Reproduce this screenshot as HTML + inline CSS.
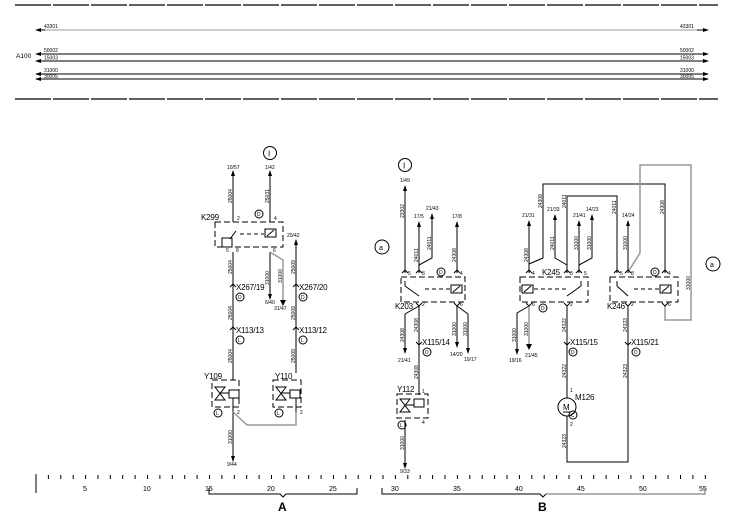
<!DOCTYPE html>
<html><head><meta charset="utf-8"><style>
html,body{margin:0;padding:0;background:#fff;}
svg{display:block;font-family:"Liberation Sans",sans-serif;}
.t{font-size:8px;fill:#000;letter-spacing:-0.2px;}
.s{font-size:5px;fill:#000;}
.w{stroke:#000;stroke-width:1;fill:none;}
.g{stroke:#999;stroke-width:1.5;fill:none;}
.d{stroke:#000;stroke-width:1;fill:none;stroke-dasharray:6,3;}
</style></head><body>
<svg width="744" height="518" viewBox="0 0 744 518" xmlns="http://www.w3.org/2000/svg">
<defs>
<marker id="a" markerWidth="6" markerHeight="6" refX="5" refY="3" orient="auto" markerUnits="userSpaceOnUse"><path d="M0,1 L6,3 L0,5 Z" fill="#000"/></marker>
</defs>

<line x1="15" y1="5" x2="718" y2="5" stroke="#000" stroke-width="1.3" stroke-dasharray="36,2"/>
<line x1="15" y1="99" x2="718" y2="99" stroke="#000" stroke-width="1.3" stroke-dasharray="36,2"/>
<line x1="42" y1="30" x2="700" y2="30" stroke="#999" stroke-width="1"/>
<g class="w" marker-end="url(#a)">
<line x1="45" y1="30" x2="36" y2="30"/><line x1="697" y1="30" x2="708" y2="30"/>
<line x1="45" y1="54" x2="36" y2="54"/><line x1="697" y1="54" x2="708" y2="54"/>
<line x1="45" y1="61" x2="36" y2="61"/><line x1="697" y1="61" x2="708" y2="61"/>
<line x1="45" y1="74" x2="36" y2="74"/><line x1="697" y1="74" x2="708" y2="74"/>
<line x1="45" y1="79" x2="36" y2="79"/><line x1="697" y1="79" x2="708" y2="79"/>
</g>
<g stroke="#000" stroke-width="1"><line x1="40" y1="54" x2="702" y2="54"/><line x1="40" y1="61" x2="702" y2="61"/><line x1="40" y1="74" x2="702" y2="74"/><line x1="40" y1="79" x2="702" y2="79"/></g>
<g class="s">
<text x="44" y="28">43301</text><text x="680" y="28">43301</text>
<text x="44" y="52">50002</text><text x="680" y="52">50002</text>
<text x="44" y="59.5">15003</text><text x="680" y="59.5">15003</text>
<text x="44" y="72">31000</text><text x="680" y="72">31000</text>
<text x="44" y="78">30005</text><text x="680" y="78">30005</text>
</g>
<text x="16" y="58" style="font-size:6.5px">A100</text>

<!-- Section A -->
<circle cx="270" cy="153" r="6.5" class="w"/><text x="268" y="156.5" class="t">I</text>
<text x="227" y="169" class="s">10/57</text><text x="265" y="169" class="s">1/42</text>
<g class="w" marker-end="url(#a)">
<line x1="233" y1="222" x2="233" y2="171"/>
<line x1="270" y1="222" x2="270" y2="171"/>
<line x1="296" y1="373" x2="296" y2="240"/>
<line x1="270" y1="252" x2="270" y2="299"/>
<line x1="233" y1="412" x2="233" y2="461"/>
</g>
<polyline points="270,252 283,260 283,305" class="g"/>
<path d="M280,300 L283,306 L286,300 Z" fill="#000"/>
<line x1="233" y1="252" x2="233" y2="380" class="w"/>
<text x="287" y="237" class="s">20/42</text>
<text x="265" y="304" class="s">6/40</text>
<text x="274" y="310" class="s">31/47</text>
<text x="227" y="466" class="s">9/44</text>
<rect x="215" y="222" width="68" height="25" class="d"/>
<text x="201" y="220" class="t">K299</text>
<text x="237" y="220" class="s">2</text><text x="274" y="220" class="s">4</text>
<circle cx="259" cy="214" r="4" class="w"/><text x="257" y="216" class="s">D</text>
<rect x="265" y="229" width="11" height="8" class="w"/><line x1="267" y1="236" x2="274" y2="230" class="w"/>
<line x1="240" y1="234" x2="264" y2="234" class="w" stroke-dasharray="4,3"/>
<line x1="230" y1="239" x2="236" y2="231" class="w"/>
<rect x="222" y="238" width="10" height="9" class="w"/>
<text x="226" y="252" class="s">5</text><text x="236" y="252" class="s">8</text><text x="273" y="252" class="s">6</text>
<text x="236" y="290" class="t">X267/19</text><circle cx="240" cy="297" r="4" class="w"/><text x="238" y="299" class="s">D</text>
<text x="299" y="290" class="t">X267/20</text><circle cx="303" cy="297" r="4" class="w"/><text x="301" y="299" class="s">D</text>
<text x="236" y="333" class="t">X113/13</text><circle cx="240" cy="340" r="4" class="w"/><text x="238" y="342" class="s">L</text>
<text x="299" y="333" class="t">X113/12</text><circle cx="303" cy="340" r="4" class="w"/><text x="301" y="342" class="s">L</text>
<g class="w"><polyline points="230,287 233,284 236,287"/><polyline points="293,287 296,284 299,287"/><polyline points="230,330 233,327 236,330"/><polyline points="293,330 296,327 299,330"/></g>
<rect x="212" y="380" width="27" height="27" class="d"/>
<rect x="273" y="380" width="28" height="27" class="d"/>
<text x="204" y="379" class="t">Y109</text><text x="275" y="379" class="t">Y110</text>
<g class="w">
<rect x="229" y="390" width="10" height="8"/><rect x="290" y="390" width="10" height="8"/>
<line x1="233" y1="398" x2="233" y2="412"/><line x1="296" y1="398" x2="296" y2="412"/>
<path d="M215,387 L225,387 L215,400 L225,400 Z M220,393 L229,393"/>
<path d="M276,387 L286,387 L276,400 L286,400 Z M281,393 L290,393"/>
</g>
<circle cx="218" cy="413" r="4" class="w"/><text x="216" y="415" class="s">L</text>
<circle cx="279" cy="413" r="4" class="w"/><text x="277" y="415" class="s">L</text>
<text x="237" y="414" class="s">2</text><text x="300" y="414" class="s">2</text>
<polyline points="233,412 247,425 296,425 296,412" class="g"/>
<g class="s">
<text transform="translate(232,203) rotate(-90)">25004</text>
<text transform="translate(269,203) rotate(-90)">25031</text>
<text transform="translate(232,274) rotate(-90)">25004</text>
<text transform="translate(269,285) rotate(-90)">31000</text>
<text transform="translate(282,283) rotate(-90)">31000</text>
<text transform="translate(295,274) rotate(-90)">25009</text>
<text transform="translate(232,320) rotate(-90)">25004</text>
<text transform="translate(295,320) rotate(-90)">25009</text>
<text transform="translate(232,363) rotate(-90)">25004</text>
<text transform="translate(295,363) rotate(-90)">25009</text>
<text transform="translate(232,444) rotate(-90)">31000</text>
</g>

<!-- Section B -->
<circle cx="405" cy="165" r="6.5" class="w"/><text x="403" y="168.5" class="t">I</text>
<circle cx="382" cy="247" r="7" class="w"/><text x="379" y="250" class="t" style="font-size:7px">a</text>
<circle cx="713" cy="264" r="7" class="w"/><text x="710" y="267" class="t" style="font-size:7px">a</text>
<g class="s">
<text x="400" y="182">1/49</text><text x="414" y="218">17/5</text><text x="426" y="210">21/43</text><text x="452" y="218">17/8</text>
<text x="522" y="217">21/31</text><text x="547" y="211">21/33</text><text x="573" y="217">21/41</text><text x="586" y="211">14/23</text><text x="622" y="217">14/24</text>
<text x="398" y="362">21/41</text><text x="450" y="356">14/20</text><text x="464" y="361">19/17</text>
<text x="509" y="362">19/16</text><text x="525" y="357">21/45</text>
<text x="400" y="473">9/33</text>
</g>
<g class="w" marker-end="url(#a)">
<line x1="405" y1="273" x2="405" y2="186"/>
<line x1="419" y1="273" x2="419" y2="222"/>
<polyline points="419,265 432,258 432,214"/>
<line x1="457" y1="273" x2="457" y2="222"/>
<line x1="529" y1="273" x2="529" y2="221"/>
<polyline points="567,265 555,258 555,215"/>
<line x1="579" y1="273" x2="579" y2="221"/>
<polyline points="579,265 592,258 592,215"/>
<line x1="628" y1="273" x2="628" y2="221"/>
<polyline points="419,306 405,314 405,353"/>
<line x1="457" y1="306" x2="457" y2="347"/>
<polyline points="457,306 468,314 468,353"/>
<polyline points="529,306 517,313 517,354"/>
<line x1="405" y1="420" x2="405" y2="468"/>
</g>
<line x1="529" y1="306" x2="529" y2="348" class="g"/><path d="M526,344 L529,350 L532,344 Z" fill="#000"/>
<line x1="419" y1="306" x2="419" y2="395" class="w"/>
<polyline points="529,272 529,264 543,258 543,184 665,184 665,273" class="w"/>
<polyline points="567,273 567,196 617,196 617,273" class="w"/>
<polyline points="628,272 640,253 640,165 691,165 691,320 665,320 665,306" class="g"/>
<polyline points="567,306 567,398" class="w"/>
<polyline points="567,416 567,462 628,462 628,306" class="w"/>
<rect x="401" y="277" width="64" height="25" class="d"/>
<rect x="520" y="277" width="68" height="25" class="d"/>
<rect x="610" y="277" width="68" height="25" class="d"/>
<text x="395" y="309" class="t">K203</text><text x="542" y="275" class="t">K245</text><text x="607" y="309" class="t">K246</text>
<circle cx="441" cy="272" r="4" class="w"/><text x="439" y="274" class="s">D</text>
<circle cx="543" cy="308" r="4" class="w"/><text x="541" y="310" class="s">D</text>
<circle cx="655" cy="272" r="4" class="w"/><text x="653" y="274" class="s">D</text>
<g class="w">
<rect x="451" y="285" width="11" height="8"/><line x1="453" y1="292" x2="460" y2="286"/>
<rect x="522" y="285" width="11" height="8"/><line x1="524" y1="292" x2="531" y2="286"/>
<rect x="660" y="285" width="11" height="8"/><line x1="662" y1="292" x2="669" y2="286"/>
<line x1="405" y1="281" x2="405" y2="286"/><line x1="405" y1="286" x2="419" y2="296"/>
<line x1="581" y1="281" x2="581" y2="286"/><line x1="581" y1="286" x2="567" y2="296"/>
<line x1="617" y1="281" x2="617" y2="286"/><line x1="617" y1="286" x2="628" y2="296"/>
</g>
<g stroke="#000" stroke-dasharray="4,3"><line x1="425" y1="289" x2="450" y2="289"/><line x1="534" y1="289" x2="568" y2="289"/><line x1="634" y1="289" x2="659" y2="289"/></g>
<g class="s">
<text x="408" y="275">5</text><text x="422" y="275">8</text><text x="460" y="275">4</text>
<text x="532" y="275">4</text><text x="570" y="275">8</text><text x="584" y="275">5</text>
<text x="620" y="275">5</text><text x="631" y="275">8</text><text x="668" y="275">4</text>
<text x="422" y="306">2</text><text x="460" y="306">6</text>
<text x="532" y="306">6</text><text x="570" y="306">2</text>
<text x="631" y="306">2</text><text x="668" y="306">6</text>
</g>
<g class="w">
<polyline points="402,273 405,270 408,273"/><polyline points="416,273 419,270 422,273"/><polyline points="454,273 457,270 460,273"/>
<polyline points="526,273 529,270 532,273"/><polyline points="564,273 567,270 570,273"/><polyline points="576,273 579,270 582,273"/>
<polyline points="614,273 617,270 620,273"/><polyline points="625,273 628,270 631,273"/><polyline points="662,273 665,270 668,273"/>
<polyline points="416,303 419,306 422,303"/><polyline points="454,303 457,306 460,303"/>
<polyline points="526,303 529,306 532,303"/><polyline points="564,303 567,306 570,303"/>
<polyline points="625,303 628,306 631,303"/><polyline points="662,303 665,306 668,303"/>
<polyline points="416,342 419,345 422,342"/><polyline points="564,342 567,345 570,342"/><polyline points="625,342 628,345 631,342"/>
</g>
<text x="422" y="345" class="t">X115/14</text><circle cx="427" cy="352" r="4" class="w"/><text x="425" y="354" class="s">D</text>
<text x="570" y="345" class="t">X115/15</text><circle cx="573" cy="352" r="4" class="w"/><text x="571" y="354" class="s">D</text>
<text x="631" y="345" class="t">X115/21</text><circle cx="636" cy="352" r="4" class="w"/><text x="634" y="354" class="s">D</text>
<rect x="397" y="394" width="31" height="24" class="d"/>
<text x="397" y="392" class="t">Y112</text>
<g class="w"><rect x="414" y="399" width="10" height="8"/><path d="M400,399 L410,399 L400,412 L410,412 Z M405,405 L414,405"/></g>
<circle cx="402" cy="425" r="4" class="w"/><text x="400" y="427" class="s">L</text>
<text x="422" y="393" class="s">1</text><text x="422" y="424" class="s">4</text>
<circle cx="567" cy="407" r="9" class="w"/><text x="563" y="410" class="t">M</text><line x1="563" y1="412" x2="571" y2="412" class="w"/>
<text x="575" y="400" class="t">M126</text>
<circle cx="573" cy="415" r="4" class="w"/><text x="571" y="417" class="s">C</text>
<text x="570" y="392" class="s">1</text><text x="570" y="426" class="s">2</text>
<g class="s">
<text transform="translate(404,218) rotate(-90)">23302</text>
<text transform="translate(418,262) rotate(-90)">24011</text>
<text transform="translate(431,250) rotate(-90)">24011</text>
<text transform="translate(456,262) rotate(-90)">24308</text>
<text transform="translate(404,342) rotate(-90)">24308</text>
<text transform="translate(418,332) rotate(-90)">24308</text>
<text transform="translate(456,336) rotate(-90)">31000</text>
<text transform="translate(467,336) rotate(-90)">31000</text>
<text transform="translate(418,379) rotate(-90)">24308</text>
<text transform="translate(404,450) rotate(-90)">31000</text>
<text transform="translate(528,262) rotate(-90)">24308</text>
<text transform="translate(542,208) rotate(-90)">24308</text>
<text transform="translate(554,250) rotate(-90)">24011</text>
<text transform="translate(566,208) rotate(-90)">24011</text>
<text transform="translate(578,250) rotate(-90)">31000</text>
<text transform="translate(591,250) rotate(-90)">31000</text>
<text transform="translate(616,214) rotate(-90)">24011</text>
<text transform="translate(627,250) rotate(-90)">31000</text>
<text transform="translate(664,214) rotate(-90)">24308</text>
<text transform="translate(690,290) rotate(-90)">31000</text>
<text transform="translate(516,342) rotate(-90)">31000</text>
<text transform="translate(528,336) rotate(-90)">31000</text>
<text transform="translate(566,332) rotate(-90)">24322</text>
<text transform="translate(566,378) rotate(-90)">24322</text>
<text transform="translate(566,448) rotate(-90)">24323</text>
<text transform="translate(627,332) rotate(-90)">24323</text>
<text transform="translate(627,378) rotate(-90)">24323</text>
</g>

<!-- ruler -->
<g stroke="#000" stroke-width="1">
<line x1="36" y1="474" x2="36" y2="493"/>
<path d="M48.4,475v4M60.8,475v4M73.2,475v4M85.6,475v4M98,475v4M110.3,475v4M122.7,475v4M135.1,475v4M147.5,475v4M159.9,475v4M172.3,475v4M184.7,475v4M197.1,475v4M209.5,475v4M221.9,475v4M234.3,475v4M246.7,475v4M259.1,475v4M271.5,475v4M283.9,475v4M296.3,475v4M308.7,475v4M321.1,475v4M333.5,475v4M345.8,475v4M358.2,475v4M370.6,475v4M383,475v4M395.4,475v4M407.8,475v4M420.2,475v4M432.6,475v4M445,475v4M457.4,475v4M469.8,475v4M482.2,475v4M494.6,475v4M507,475v4M519.4,475v4M531.8,475v4M544.2,475v4M556.6,475v4M569,475v4M581.4,475v4M593.7,475v4M606.1,475v4M618.5,475v4M630.9,475v4M643.3,475v4M655.7,475v4M668.1,475v4M680.5,475v4M692.9,475v4M705.3,475v4"/>
</g>
<g style="font-size:7px">
<text x="83" y="491">5</text><text x="143" y="491">10</text><text x="205" y="491">15</text><text x="267" y="491">20</text><text x="329" y="491">25</text>
<text x="391" y="491">30</text><text x="453" y="491">35</text><text x="515" y="491">40</text><text x="577" y="491">45</text><text x="639" y="491">50</text><text x="699" y="491">55</text>
</g>
<polyline points="209,488 209,494 280,494 283,497 286,494 357,494 357,488" class="w"/>
<polyline points="382,488 382,494 540,494 543,497 546,494" class="w"/>
<polyline points="546,494 705,494 705,488" class="g"/>
<text x="278" y="511" style="font-size:12px;font-weight:bold">A</text>
<text x="538" y="511" style="font-size:12px;font-weight:bold">B</text>
</svg>
</body></html>
